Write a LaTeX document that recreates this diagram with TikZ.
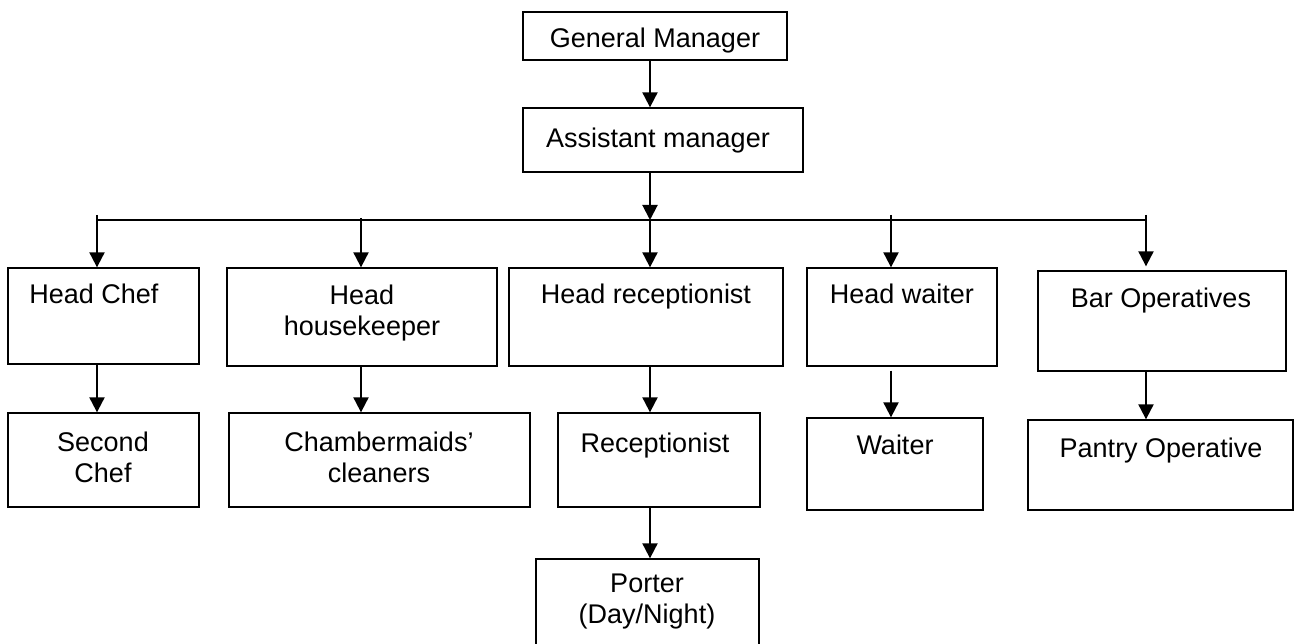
\documentclass[tikz,border=0pt]{standalone}
\usepackage{fontspec}
\setmainfont{Liberation Sans}
\usetikzlibrary{arrows.meta}
\begin{document}
\begin{tikzpicture}[x=1pt,y=-1pt,
  box/.style={draw,line width=1.3pt,inner sep=0pt},
  txt/.style={inner sep=0pt,anchor=base,align=center,font=\fontsize{27}{31}\selectfont},
  arr/.style={line width=2pt,-{Triangle[length=15pt,width=15pt]}},
  bar/.style={line width=2pt}]
\useasboundingbox (0,0) rectangle (1294,644);
% boxes
\node[box,minimum width=264,minimum height=48] (gm) at (655,36) {};
\node[box,minimum width=280,minimum height=64] (am) at (663,140) {};
\node[box,minimum width=191,minimum height=96] (hc) at (103.5,316) {};
\node[box,minimum width=270,minimum height=98] (hh) at (362,317) {};
\node[box,minimum width=274,minimum height=98] (hr) at (646,317) {};
\node[box,minimum width=190,minimum height=98] (hw) at (902,317) {};
\node[box,minimum width=248,minimum height=100] (bo) at (1162,321) {};
\node[box,minimum width=191,minimum height=94] (sc) at (103.5,460) {};
\node[box,minimum width=301,minimum height=94] (cm) at (379.5,460) {};
\node[box,minimum width=202,minimum height=94] (rc) at (659,460) {};
\node[box,minimum width=176,minimum height=92] (wt) at (895,464) {};
\node[box,minimum width=265,minimum height=90] (po) at (1160.5,465) {};
\node[box,minimum width=223,minimum height=89] (pt) at (647.5,603.5) {};
% texts (base = baseline of the last line)
\node[txt] (gmt) at (655,48) {General Manager};
\node[txt] (amt) at (658,148) {Assistant manager};
\node[txt] (hct) at (94,304) {Head Chef};
\node[txt] (hht) at (362,336) {Head\\housekeeper};
\node[txt] (hrt) at (646,304) {Head receptionist};
\node[txt] (hwt) at (902,304) {Head waiter};
\node[txt] (bot) at (1161,308) {Bar Operatives};
\node[txt] (sct) at (103,482) {Second\\Chef};
\node[txt] (cmt) at (379,482) {Chambermaids’\\cleaners};
\node[txt] (rct) at (655,452) {Receptionist};
\node[txt] (wtt) at (895,454) {Waiter};
\node[txt] (pot) at (1161,457) {Pantry Operative};
\node[txt] (ptt) at (647,623) {Porter\\(Day/Night)};
% connector coordinates
\coordinate (bus) at (650,220);
\coordinate (bL) at (97,220);
\coordinate (bH) at (361,220);
\coordinate (bW) at (891,220);
\coordinate (bR) at (1146,220);
% connectors
\draw[bar] (bL) -- (bR);
\draw[arr] (bus |- gm.south) -- (bus |- am.north);
\draw[arr] (bus |- am.south) -- (bus);
\draw[arr] (bus) -- (bus |- hr.north);
\draw[arr] ([yshift=5pt]bL) -- (bL |- hc.north);
\draw[arr] ([yshift=2pt]bH) -- (bH |- hh.north);
\draw[arr] ([yshift=5pt]bW) -- (bW |- hw.north);
\draw[arr] ([yshift=5pt]bR) -- ([yshift=4pt]bR |- bo.north);
\draw[arr] (bL |- hc.south) -- (bL |- sc.north);
\draw[arr] (bH |- hh.south) -- (bH |- cm.north);
\draw[arr] (bus |- hr.south) -- (bus |- rc.north);
\draw[arr] ([yshift=-4pt]bW |- hw.south) -- (bW |- wt.north);
\draw[arr] (bR |- bo.south) -- (bR |- po.north);
\draw[arr] (bus |- rc.south) -- (bus |- pt.north);
\end{tikzpicture}
\end{document}
